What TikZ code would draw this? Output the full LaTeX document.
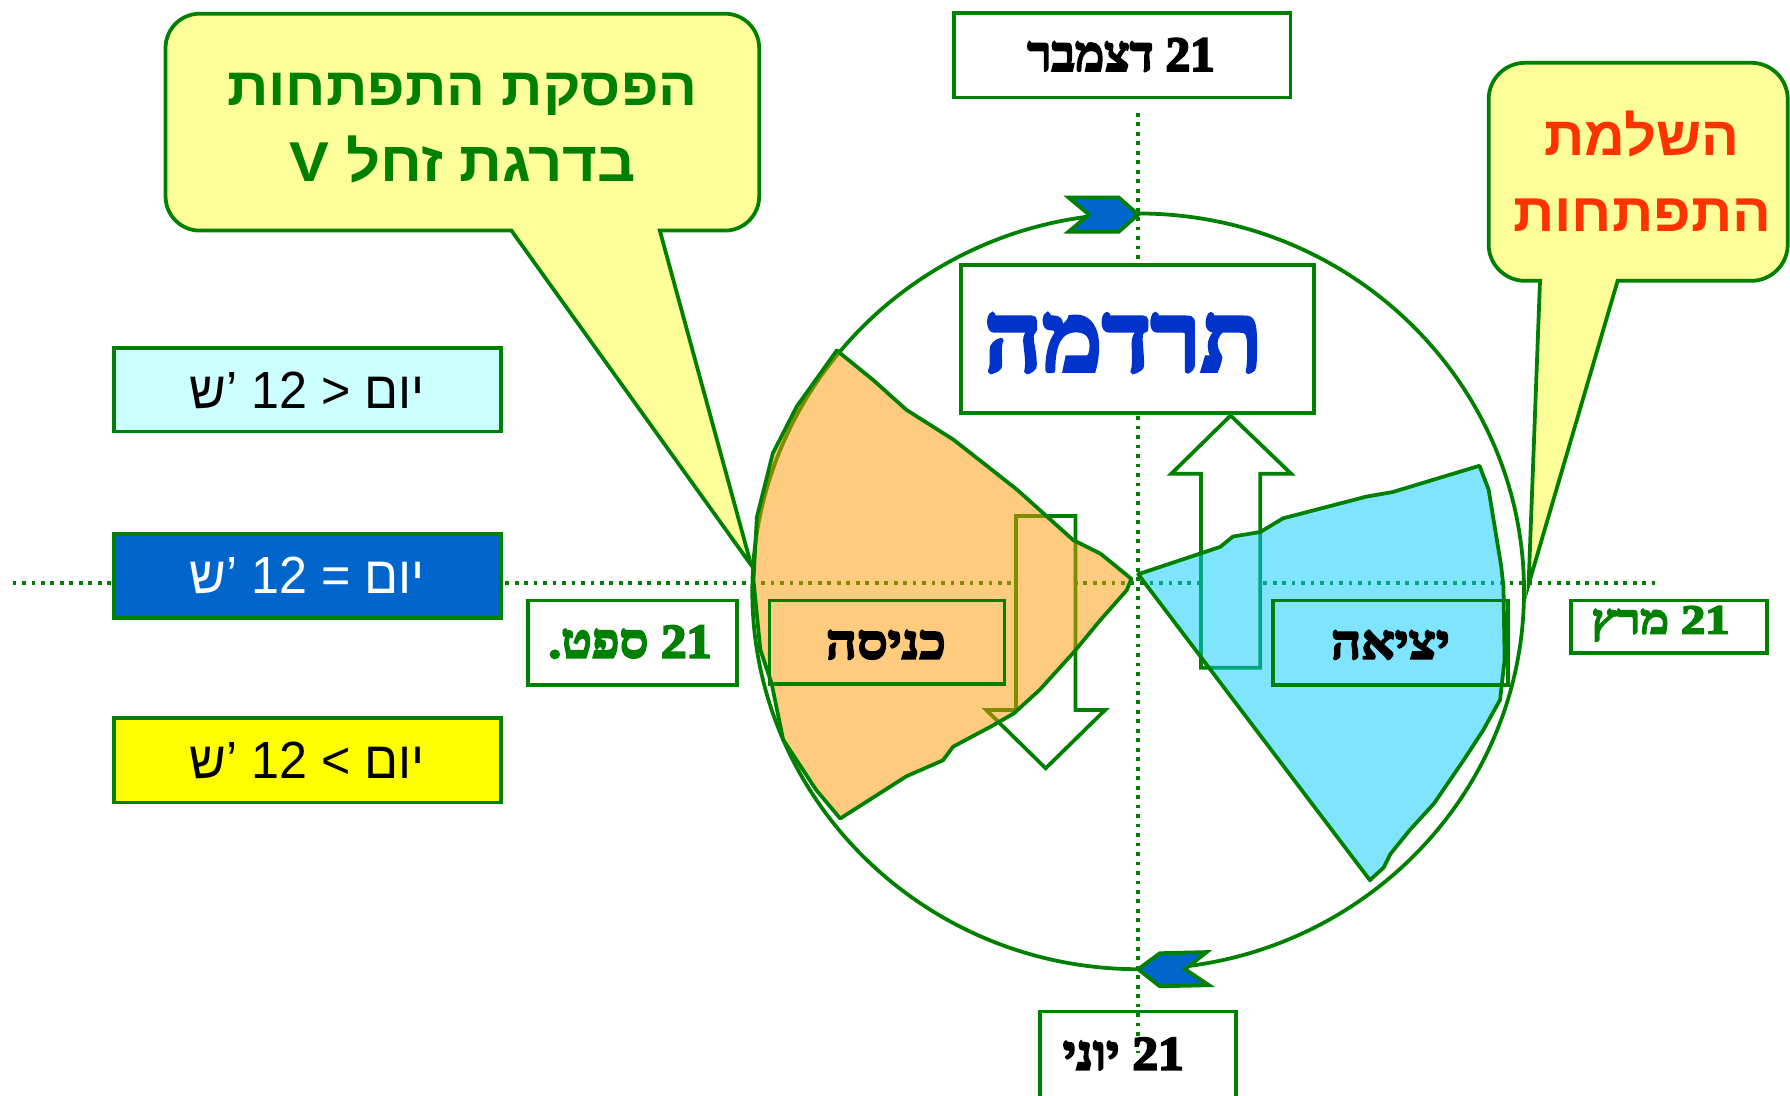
\documentclass[tikz,border=0pt]{standalone}
\usepackage{fontspec}
\usepackage{graphicx}
\setmainfont{Liberation Sans}
\newfontfamily\hebsans[Script=Hebrew]{Liberation Sans}
\newfontfamily\hebserif[Script=Hebrew,BoldFeatures={FakeBold=4}]{Liberation Serif}
\TeXXeTstate=1
\definecolor{grn}{HTML}{008000}
\definecolor{calloutfill}{HTML}{FFFF99}
\definecolor{legcyan}{HTML}{CCFFFF}
\definecolor{legblue}{HTML}{0066CC}
\definecolor{legyellow}{HTML}{FFFF00}
\definecolor{tardblue}{HTML}{0033CC}
\definecolor{redorange}{HTML}{FF3300}
\definecolor{entryorange}{HTML}{FF9900}
\definecolor{exitcyan}{HTML}{00CCFF}
\definecolor{chevblue}{HTML}{0066CC}
\newcommand{\rsfit}[3]{\resizebox{#1pt}{#2pt}{#3}}
\newcommand{\hsb}{\hebsans\bfseries\fontsize{40}{48}\selectfont}
\newcommand{\hrb}{\hebserif\bfseries\fontsize{40}{48}\selectfont}
\newcommand{\hsr}{\hebsans\fontsize{40}{48}\selectfont}
\begin{document}
\begin{tikzpicture}[x=1pt,y=-1pt,
  gline/.style={draw=grn,line width=3.3pt},
  frame/.style={gline,rectangle,inner sep=0pt},
  dotline/.style={grn,line width=3.3pt,dash pattern=on 3.3pt off 5pt},
  lbl/.style={inner sep=0pt,anchor=base},
  hollowarrow/.style={gline,fill=white,line join=miter},
  region/.style={gline,line join=round},
  chevron/.style={gline,fill=chevblue,line join=miter},
  callout/.style={gline,fill=calloutfill,line join=miter},
]
\useasboundingbox (0,0) rectangle (1568,960);

% June box (the dotted axis runs into it)
\node[frame,fill=white,minimum width=172pt,minimum height=94pt] (boxjun) at (997,933) {};

% dotted axes
\coordinate (hL) at (11,511);
\coordinate (hR) at (1450,511);
\coordinate (vT) at (997,99);
\coordinate (vB) at (997,922);
\draw[dotline] (hL) -- (hR);
\draw[dotline] (vT) -- (vB);

% hollow arrows
\draw[hollowarrow] (890,452) -- (942,452) -- (942,622) -- (968,622) -- (916,673) -- (864,622) -- (890,622) -- cycle;
\draw[hollowarrow] (1052,585) -- (1104,585) -- (1104,415) -- (1131,415) -- (1078,364) -- (1026,415) -- (1052,415) -- cycle;

% circle (two arcs)
\coordinate (ctop) at (997,187);
\coordinate (cbot) at (997,849);
\draw[gline] (cbot) arc[start angle=90,end angle=270,x radius=338,y radius=331];
\draw[gline] (ctop) arc[start angle=-90,end angle=90,x radius=338,y radius=331];

% entry region (orange)
\draw[region,fill=entryorange,fill opacity=.5]
  (733,307) -- (765,333) -- (794,359) -- (835,385) -- (858,403) -- (891,429) -- (940,473)
  -- (964,485) -- (991,507) -- (987,517) -- (964,543) -- (940,572) -- (911,604) -- (888,625)
  -- (867,637) -- (835,654) -- (826,666) -- (794,680) -- (736,717) -- (715,692) -- (686,648)
  -- (676,599) -- (666,569) -- (660,508) -- (663,453) -- (677,397) -- (698,356) -- cycle;

% exit region (cyan)
\draw[region,fill=exitcyan,fill opacity=.5]
  (997,503) -- (1069,479) -- (1080,470) -- (1104,466) -- (1124,454) -- (1197,435) -- (1220,431)
  -- (1296,408) -- (1304,429) -- (1315,496) -- (1317,514) -- (1318,578) -- (1314,613)
  -- (1299,640) -- (1282,666) -- (1256,704) -- (1235,727) -- (1218,748) -- (1212,760)
  -- (1200,771) -- cycle;

% boxes
\node[frame,minimum width=206pt,minimum height=73pt] (boxin) at (777,562.5) {};
\node[frame,minimum width=206pt,minimum height=74pt] (boxout) at (1218,563) {};
\node[frame,fill=white,minimum width=183pt,minimum height=74pt] (boxsep) at (554,563) {};
\node[frame,fill=white,minimum width=172pt,minimum height=46pt] (boxmar) at (1462,549) {};
\node[frame,fill=white,minimum width=295pt,minimum height=74pt] (boxdec) at (983,48.5) {};
\node[frame,fill=white,minimum width=309pt,minimum height=130pt] (boxtard) at (996.5,297) {};

% legend boxes
\node[frame,fill=legcyan,minimum width=339pt,minimum height=73pt] (legA) at (269.5,341.5) {};
\node[frame,fill=legblue,minimum width=339pt,minimum height=74pt] (legB) at (269.5,504.5) {};
\node[frame,fill=legyellow,minimum width=339pt,minimum height=74pt] (legC) at (269.5,666) {};

% callouts
\draw[callout] (448,202) -- (175,202) arc[start angle=90,end angle=180,radius=30]
  -- (145,42) arc[start angle=180,end angle=270,radius=30]
  -- (635,12) arc[start angle=270,end angle=360,radius=30]
  -- (665,172) arc[start angle=0,end angle=90,radius=30]
  -- (578,202) -- (658,495) -- cycle;
\draw[callout] (1349,246) -- (1336,246) arc[start angle=90,end angle=180,radius=32]
  -- (1304,87) arc[start angle=180,end angle=270,radius=32]
  -- (1534,55) arc[start angle=270,end angle=360,radius=32]
  -- (1566,214) arc[start angle=0,end angle=90,radius=32]
  -- (1417,246) -- (1339,512) -- cycle;

% chevron arrow heads
\draw[chevron] (997,188) -- (980,173) -- (936,173) -- (954,188) -- (936,203) -- (980,203) -- cycle;
\draw[chevron] (997,849) -- (1016,835) -- (1057,834) -- (1038,849) -- (1059,863) -- (1016,864) -- cycle;

% texts
\node[lbl,text=grn] (t1a) at (405,92) {\rsfit{412}{28.3}{\hsb\beginR הפסקת התפתחות\endR}};
\node[lbl,text=grn] (t1b) at (405.5,159) {\rsfit{303}{40}{\hsb\beginR בדרגת זחל V\endR}};
\node[lbl,text=redorange] (t2a) at (1438.5,136) {\rsfit{171}{39}{\hsb\beginR השלמת\endR}};
\node[lbl,text=redorange] (t2b) at (1438.5,203) {\rsfit{226}{28.6}{\hsb\beginR התפתחות\endR}};
\node[lbl,text=tardblue] (ttard) at (984,325) {\rsfit{244}{50}{\hrb\beginR תרדמה\endR}};
\node[lbl] (tdec) at (982,62) {\rsfit{164}{28.5}{\hrb\beginR 21 דצמבר\endR}};
\node[lbl] (tin) at (776,577) {\rsfit{105}{24.7}{\hrb\beginR כניסה\endR}};
\node[lbl] (tout) at (1218,577) {\rsfit{104}{24.7}{\hrb\beginR יציאה\endR}};
\node[lbl,text=grn] (tsep) at (552,576) {\rsfit{143}{28}{\hrb\beginR 21 ספט\kern0pt.\endR}};
\node[lbl,text=grn] (tmar) at (1454.5,555) {\rsfit{121}{24}{\hrb\beginR 21 מרץ\endR}};
\node[lbl] (tjun) at (984,937) {\rsfit{106}{28}{\hrb\beginR 21 יוני\endR}};

\node[lbl] (lgA) at (269,358) {\rsfit{206}{32}{\hsr ש\kern0pt’ 12 < \beginR יום\endR}};
\node[lbl,text=white] (lgB) at (269,520) {\rsfit{206}{32}{\hsr ש\kern0pt’ 12 = \beginR יום\endR}};
\node[lbl] (lgC) at (269,682) {\rsfit{206}{32}{\hsr ש\kern0pt’ 12 > \beginR יום\endR}};
\end{tikzpicture}
\end{document}
